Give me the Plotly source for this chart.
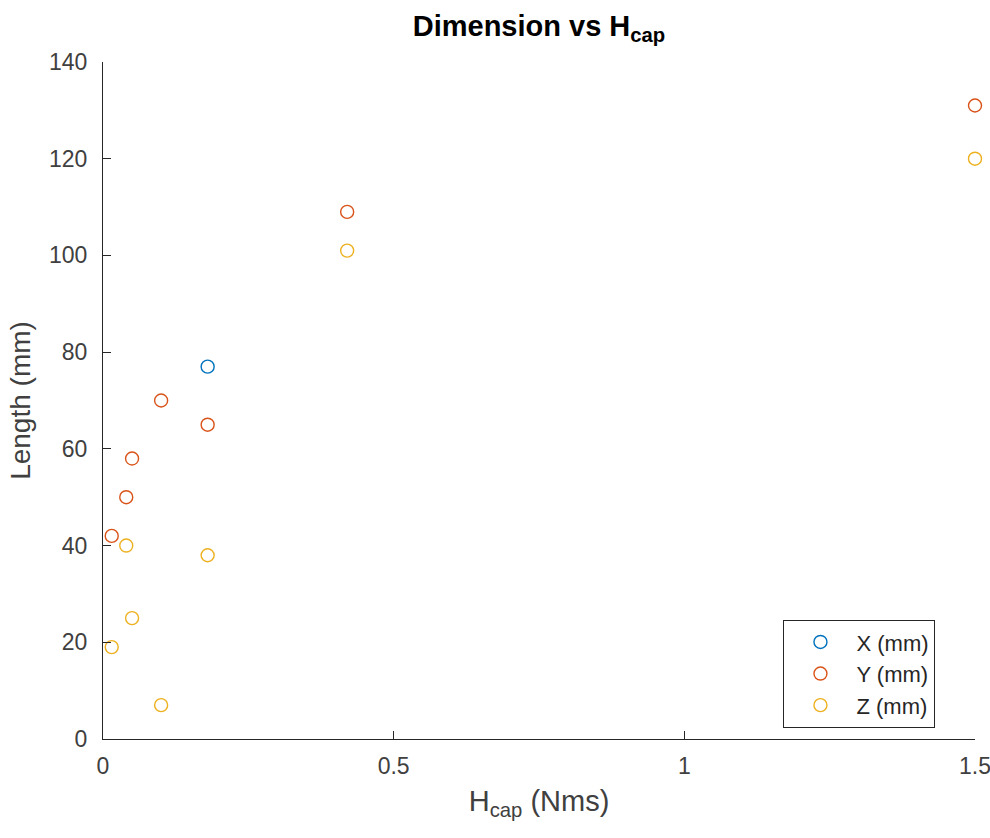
import plotly.graph_objects as go

h_cap = [0.015, 0.04, 0.05, 0.1, 0.18, 0.42, 1.5]
x_h = [0.18]
x_mm = [77]
y_mm = [42, 50, 58, 70, 65, 109, 131]
z_mm = [19, 40, 25, 7, 38, 101, 120]

series = [("X (mm)", x_h, x_mm, "#0072BD"), ("Y (mm)", h_cap, y_mm, "#D95319"),
          ("Z (mm)", h_cap, z_mm, "#EDB120")]

fig = go.Figure()
for name, xs, vals, col in series:
    fig.add_trace(go.Scatter(x=xs, y=vals, mode="markers", name=name, cliponaxis=False,
                             marker=dict(symbol="circle-open", size=13, color=col,
                                         line=dict(width=1.4, color=col))))

font_fam = "Liberation Sans, Arial, sans-serif"
axcol = "#262626"
fig.update_layout(
    width=990, height=838,
    margin=dict(l=103, r=15, t=62, b=99),
    plot_bgcolor="white", paper_bgcolor="white",
    font=dict(family=font_fam, color="#404040", size=23),
    title=dict(text="<b>Dimension vs H<sub>cap</sub></b>", x=0.5, xref="paper", xanchor="center",
               y=0.969, yanchor="middle", font=dict(size=29, color="black", family=font_fam)),
    xaxis=dict(range=[0, 1.5], tickvals=[0, 0.5, 1, 1.5], ticktext=["0", "0.5", "1", "1.5"],
               ticks="inside", ticklen=8, tickcolor=axcol, showline=True, linecolor=axcol, linewidth=1.3,
               showgrid=False, zeroline=False, automargin=False, ticklabelstandoff=6,
               ticklabeloverflow="allow",
               title=dict(text="H<sub>cap</sub> (Nms)", font=dict(size=29, color="#404040"), standoff=12)),
    yaxis=dict(range=[0, 140], tickvals=list(range(0, 141, 20)),
               ticks="inside", ticklen=8, tickcolor=axcol, showline=True, linecolor=axcol, linewidth=1.3,
               showgrid=False, zeroline=False, automargin=False, ticklabelstandoff=10,
               title=dict(text="Length (mm)", font=dict(size=28, color="#404040"), standoff=10)),
    legend=dict(x=0.78, y=0.176, xanchor="left", yanchor="top", bgcolor="white",
                bordercolor="#262626", borderwidth=1.3, font=dict(size=22, color="#262626"),
                tracegroupgap=0, itemwidth=62),
)
fig.write_html("out.html")
